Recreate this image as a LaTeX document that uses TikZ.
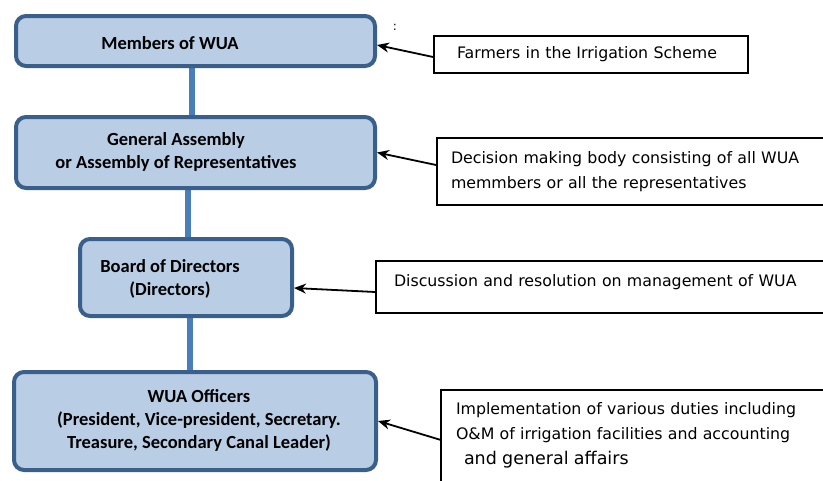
\documentclass[tikz,border=0pt]{standalone}
\usepackage{fontspec}
\setmainfont{DejaVu Sans}
\newfontfamily\levelfont{Carlito}
\usepackage{tikz}
\usetikzlibrary{arrows}
\usetikzlibrary{arrows.meta}
\usetikzlibrary{backgrounds}
\definecolor{wuaedge}{HTML}{3A5F8B}
\definecolor{wuafill}{HTML}{B9CDE5}
\definecolor{wualink}{HTML}{4A7EBB}
\tikzset{
  level box/.style = {rectangle, rounded corners=10pt, draw=wuaedge, fill=wuafill, line width=4pt},
  level text/.style = {font=\levelfont\bfseries\fontsize{18.5}{23}\selectfont, align=center, inner sep=0pt},
  note box/.style = {rectangle, draw=black, line width=1.8pt, fill=white, align=left, inner ysep=2pt, font=\fontsize{15.8}{25}\selectfont},
  link/.style = {wualink, line width=6pt},
  pointer/.style = {->, >={Stealth[length=12pt, width=10pt]}, black, line width=1.8pt},
}

\begin{document}
\begin{tikzpicture}[x=1pt, y=-1pt]
  \useasboundingbox (0,0) rectangle (823,480);
  \clip (0,0) rectangle (823,480);

  \node[level box, minimum width=359pt, minimum height=50pt] (m1) at (195.5,41) {};
  \node[level box, minimum width=359pt, minimum height=71pt] (m2) at (195.5,152.5) {};
  \node[level box, minimum width=212pt, minimum height=77pt] (m3) at (186,277.5) {};
  \node[level box, minimum width=362pt, minimum height=98pt] (m4) at (195,421) {};

  \node[level text] (m1 text) at (170,43) {Members of WUA};
  \node[level text] (m2 text) at (176,151.5) {General Assembly\\or Assembly of Representatives};
  \node[level text] (m3 text) at (170,279) {Board of Directors\\(Directors)};
  \node[level text] (m4 text) at (199,420.5) {WUA Officers\\(President, Vice-president, Secretary.\\Treasure, Secondary Canal Leader)};

  \begin{scope}[on background layer]
    \draw[link] ([xshift=-3.5pt]m1.south) -- ([xshift=-3.5pt]m1.south |- m2.north);
    \draw[link] ([xshift=2pt]m3.north |- m2.south) -- ([xshift=2pt]m3.north);
    \draw[link] ([xshift=4pt]m3.south) -- ([xshift=4pt]m3.south |- m4.north);
  \end{scope}

  \node[note box, inner xsep=23pt, text width=268pt, minimum height=37pt] (r1) at (591,54.5)
    {Farmers in the Irrigation Scheme};
  \node[note box, inner xsep=14pt, text width=385pt, minimum height=67pt] (r2) at (643.5,171.5)
    {Decision making body consisting of all WUA\\memmbers or all the representatives};
  \node[note box, inner xsep=18pt, text width=438pt, text depth=14pt, minimum height=52pt] (r3) at (613,287)
    {Discussion and resolution on management of WUA};
  \node[note box, inner xsep=15pt, text width=379pt, minimum height=91.5pt] (r4) at (645.5,435.75)
    {Implementation of various duties including\\O\&M of irrigation facilities and accounting\\
     \hspace*{8pt}{\fontsize{17.5}{25}\selectfont and general affairs}};

  \node[font=\fontsize{12}{12}\selectfont, inner sep=0pt] (colon) at (395,27) {:};

  \draw[pointer] ([yshift=-2.5pt]r1.west) -- ([yshift=-4pt]m1.east);
  \draw[pointer] ([yshift=6.5pt]r2.west) -- (m2.east);
  \draw[pointer] ([yshift=-5pt]r3.west) -- ([yshift=-10.5pt]m3.east);
  \draw[pointer] ([yshift=-4pt]r4.west) -- (m4.east);
\end{tikzpicture}
\end{document}
